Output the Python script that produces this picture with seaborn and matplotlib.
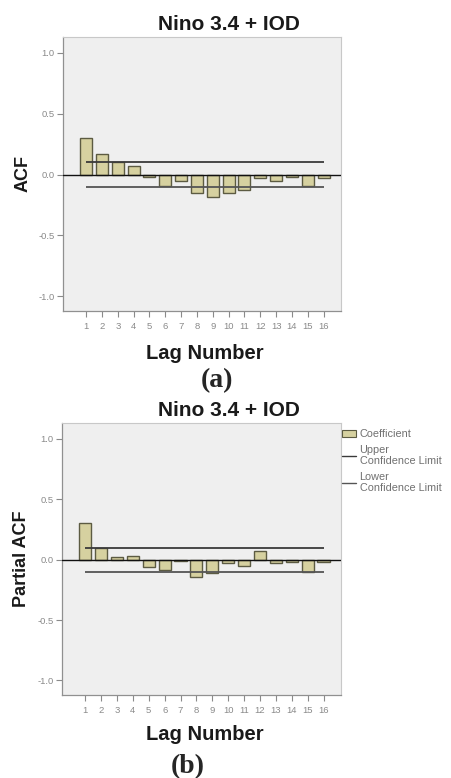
import matplotlib
matplotlib.use("Agg")
import matplotlib.pyplot as plt
from matplotlib.patches import Patch
from matplotlib.lines import Line2D
import numpy as np
import pandas as pd
import seaborn as sns

# Autocorrelation results for the combined Nino 3.4 + IOD series
lags = list(range(1, 17))
acf_values = [0.30, 0.17, 0.10, 0.07, -0.02, -0.09, -0.05, -0.15,
              -0.18, -0.15, -0.13, -0.03, -0.05, -0.02, -0.09, -0.03]
pacf_values = [0.30, 0.10, 0.02, 0.03, -0.06, -0.09, -0.01, -0.14,
               -0.11, -0.03, -0.05, 0.07, -0.03, -0.02, -0.10, -0.02]
upper_limit = 0.10
lower_limit = -0.10
y_ticks = [-1.0, -0.5, 0.0, 0.5, 1.0]
y_tick_labels = ["-1.0", "-0.5", "0.0", "0.5", "1.0"]
series_title = "Nino 3.4 + IOD"
panel_labels = ["(a)", "(b)"]
y_labels = ["ACF", "Partial ACF"]

sns.set_style("white")
plt.rcParams["font.family"] = ["Liberation Sans", "DejaVu Sans"]

BAR_FILL = "#d6d1a0"
BAR_EDGE = "#5c5b42"
FACE = "#efefef"
TICK_GREY = "#8a8a8a"

fig = plt.figure(figsize=(4.51, 7.78), dpi=100)
W, H = 451, 778


def px_axes(left, top, right, bottom):
    return fig.add_axes([left / W, 1 - bottom / H, (right - left) / W, (bottom - top) / H])


ax_top = px_axes(63, 37, 341, 311)
ax_bot = px_axes(62, 423, 341, 695)

# title centres (pixels) and x-label centres
title_y = [24, 411]
xlabel_y = [354, 735]

panels = [(ax_top, acf_values), (ax_bot, pacf_values)]
for i, (ax, vals) in enumerate(panels):
    df = pd.DataFrame({"Lag": lags, "Value": vals})
    sns.barplot(data=df, x="Lag", y="Value", order=lags, ax=ax,
                color=BAR_FILL, edgecolor=BAR_EDGE, linewidth=1.0,
                width=0.76, saturation=1)
    ax.set_facecolor(FACE)
    ax.axhline(0, color="#111111", lw=1.0, zorder=3)
    ax.hlines(upper_limit, 0, len(lags) - 1, color="#3a3a3a", lw=1.3, zorder=4)
    ax.hlines(lower_limit, 0, len(lags) - 1, color="#555555", lw=1.3, zorder=4)
    ax.set_xlim(-1.46, 16.1)
    ax.set_ylim(-1.12, 1.13)
    ax.set_yticks(y_ticks)
    ax.set_yticklabels(y_tick_labels)
    ax.tick_params(axis="both", which="both", direction="out", length=4,
                   width=0.8, color=TICK_GREY, labelcolor=TICK_GREY,
                   labelsize=6.8, pad=2)
    ax.tick_params(axis="x", bottom=True, pad=4)
    ax.tick_params(axis="y", left=True)
    for side in ["left", "bottom"]:
        ax.spines[side].set_color("#909090")
        ax.spines[side].set_linewidth(0.9)
    for side in ["top", "right"]:
        ax.spines[side].set_color("#c8c8c8")
        ax.spines[side].set_linewidth(0.8)
    ax.set_xlabel("")
    ax.set_ylabel(y_labels[i], fontsize=13, fontweight="bold",
                  color="#1a1a1a", labelpad=5)
    fig.text(229 / W, 1 - title_y[i] / H, series_title, ha="center",
             va="center", fontsize=15, fontweight="bold", color="#1a1a1a")
    fig.text(205 / W, 1 - xlabel_y[i] / H, "Lag Number", ha="center",
             va="center", fontsize=14.5, fontweight="bold", color="#1a1a1a")

fig.text(217 / W, 1 - 381 / H, panel_labels[0], ha="center", va="center",
         fontsize=20, fontweight="bold", family=["Liberation Serif"])
fig.text(188 / W, 1 - 767 / H, panel_labels[1], ha="center", va="center",
         fontsize=20, fontweight="bold", family=["Liberation Serif"])

handles = [
    Patch(facecolor=BAR_FILL, edgecolor=BAR_EDGE, linewidth=0.8),
    Line2D([], [], color="#3a3a3a", lw=1.0),
    Line2D([], [], color="#555555", lw=1.0),
]
fig.legend(handles, ["Coefficient", "Upper\nConfidence Limit",
                     "Lower\nConfidence Limit"],
           loc="upper left", bbox_to_anchor=(340 / W, 1 - 427 / H),
           frameon=False, fontsize=7.8, labelcolor="#707070",
           handlelength=1.3, handletextpad=0.3, borderaxespad=0,
           borderpad=0.2, labelspacing=0.5)

fig.savefig("out.png", dpi=100)
